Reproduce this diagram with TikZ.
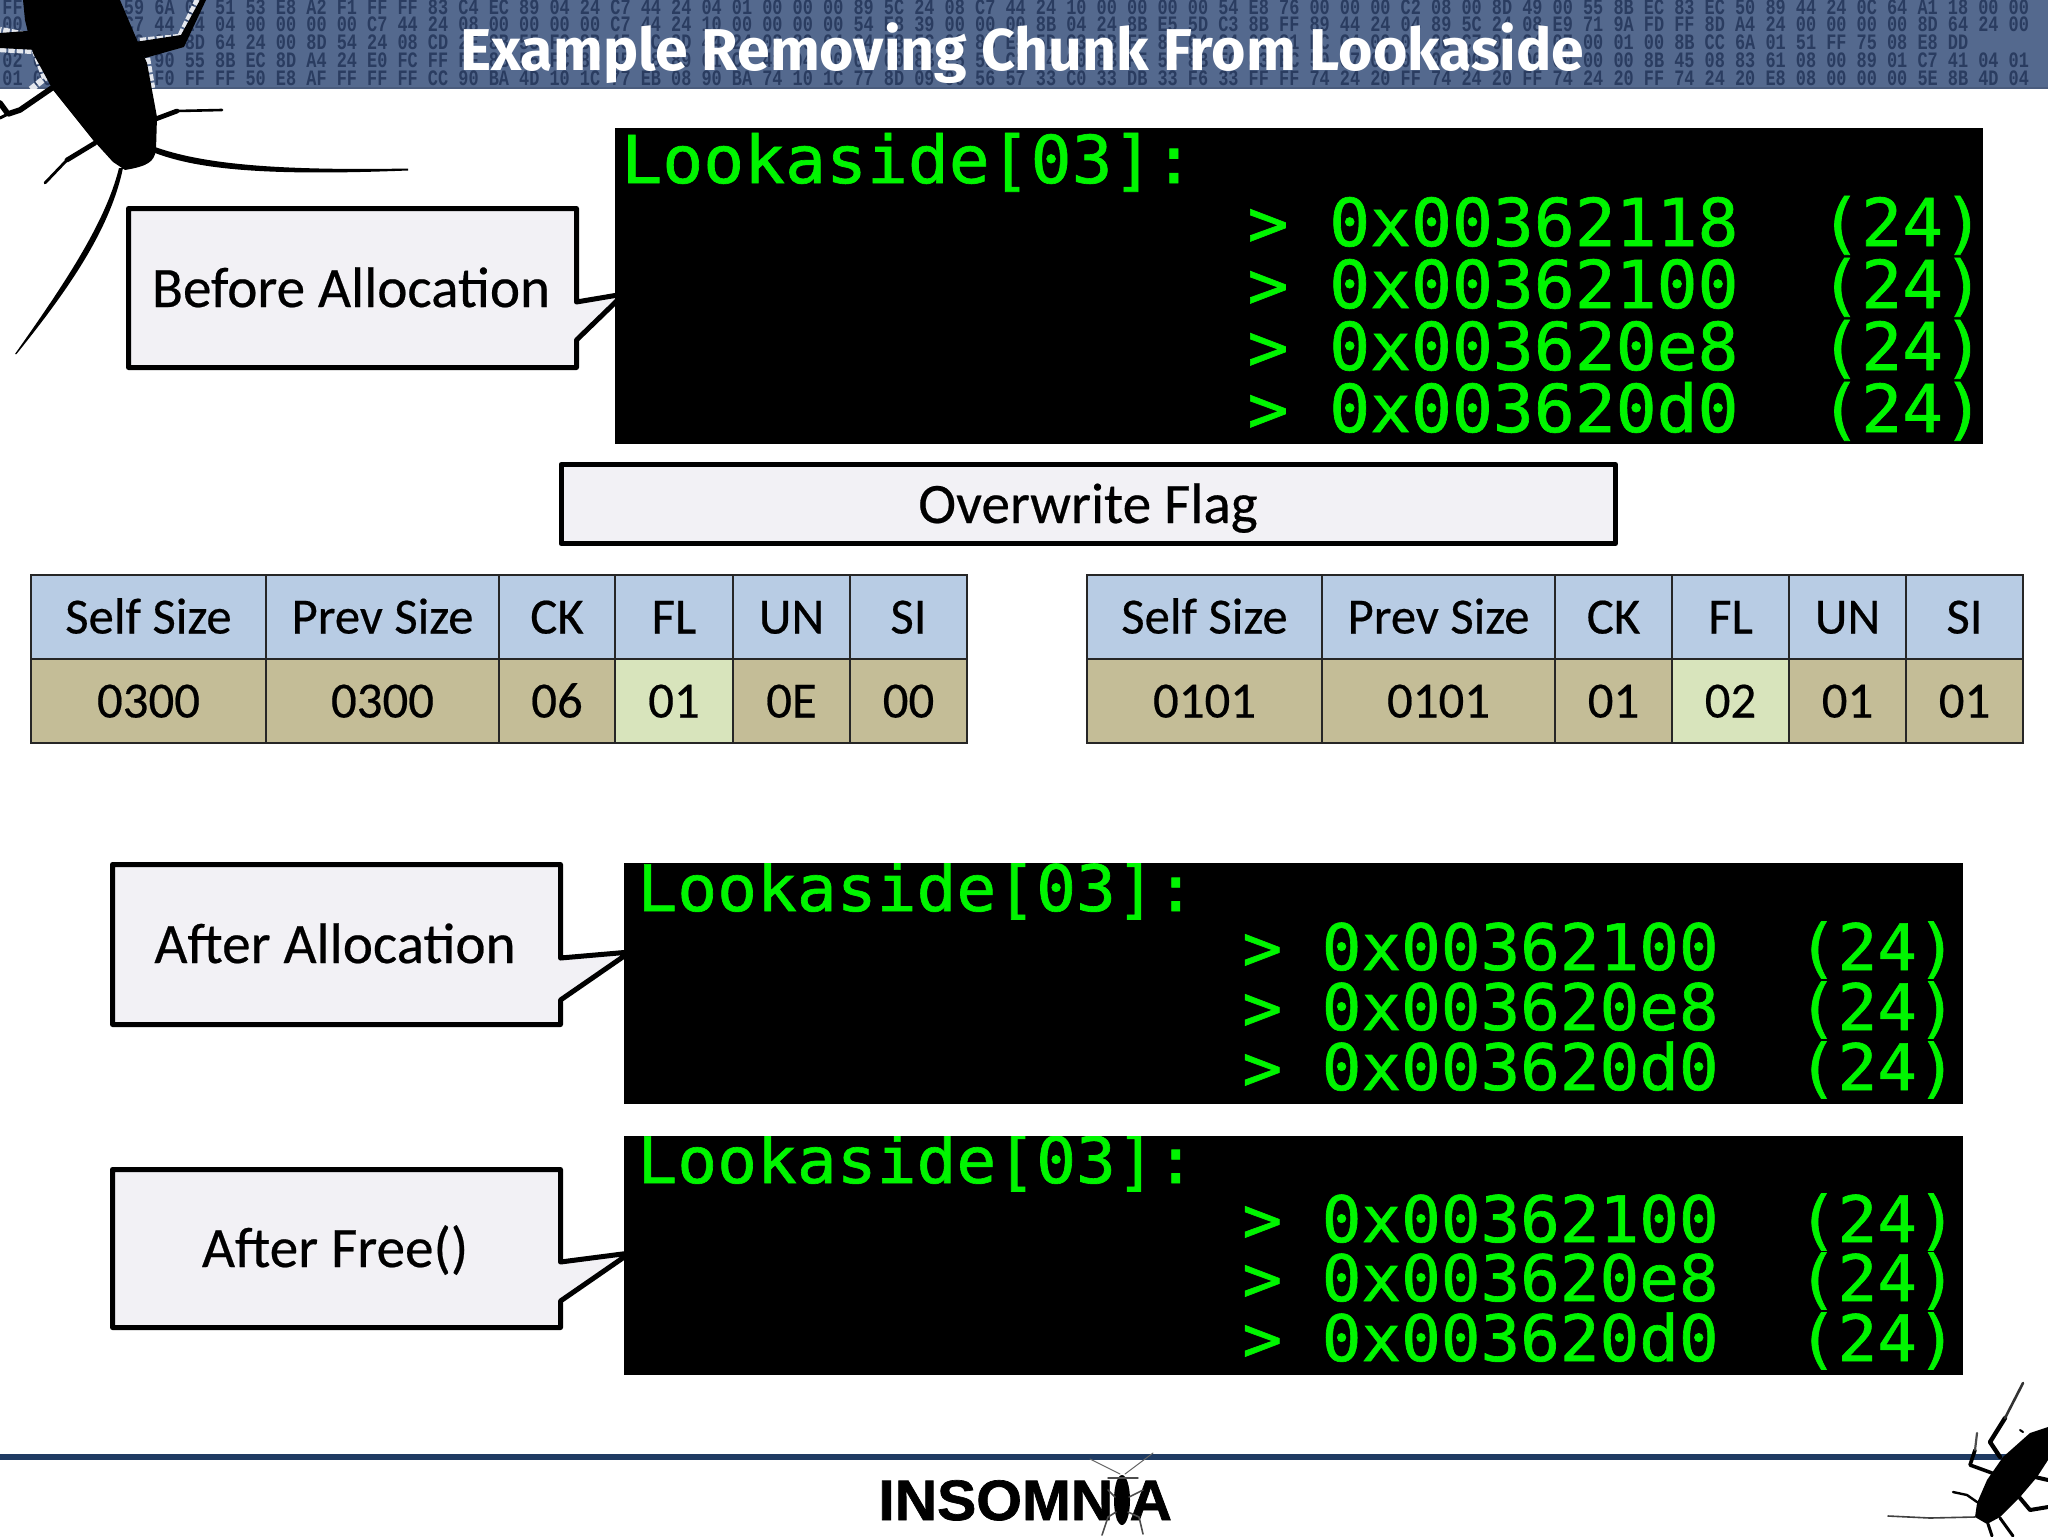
\documentclass[tikz,border=0pt]{standalone}
\usepackage{fontspec}
\setmainfont[FakeBold=0.4]{Carlito}
\newfontfamily\termf[FakeStretch=1.03,FakeBold=1.0]{DejaVu Sans Mono}
\newfontfamily\termg[FakeStretch=1.035,FakeBold=1.0]{DejaVu Sans Mono}
\newfontfamily\hexf[FakeStretch=0.7676]{Liberation Mono}
\newfontfamily\titlef[FakeStretch=1.0]{Fira Sans}
\newfontfamily\logof[FakeBold=1.2,FakeStretch=1.03]{Liberation Sans Bold}
\definecolor{banner}{HTML}{54698E}
\definecolor{hexink}{HTML}{2A3C60}
\definecolor{boxfill}{HTML}{F2F1F5}
\definecolor{headfill}{HTML}{B8CCE4}
\definecolor{bodyfill}{HTML}{C4BD97}
\definecolor{hifill}{HTML}{D8E4BC}
\definecolor{termgreen}{HTML}{00F500}
\definecolor{rulecol}{HTML}{1F3B63}
\tikzset{
  x=0.5pt,y=-0.5pt,
  hexrow/.style={anchor=base west,inner sep=0pt,text=hexink,font=\hexf\bfseries\fontsize{11}{11}\selectfont},
  callout/.style={draw=black,fill=boxfill,line width=2.5pt,line join=round},
  labeltxt/.style={anchor=base,inner sep=0pt,font=\fontsize{28.6}{28.6}\selectfont},
  celltxt/.style={anchor=base,inner sep=0pt,font=\fontsize{25.4}{25.4}\selectfont},
  cellbox/.style={draw=black!85,line width=1.2pt},
  termbig/.style={anchor=base west,inner sep=0pt,text=termgreen,font=\termf\fontsize{33}{33}\selectfont},
  termsmall/.style={anchor=base west,inner sep=0pt,text=termgreen,font=\termf\fontsize{32}{32}\selectfont},
  termhead/.style={anchor=base west,inner sep=0pt,text=termgreen,font=\termg\fontsize{32}{32}\selectfont},
  leg/.style={draw=black,line cap=round,line join=round},
  halo/.style={draw=white!85!banner,line width=3.2pt,densely dotted},
}
\newcommand\tcell[7]{% name x1 y1 x2 y2 fill text
  \path[cellbox,fill=#6] (#2,#3) rectangle (#4,#5);
  \node[celltxt] (#1) at ({(#2+#4)/2},{#5-25.5}) {#7};}
\begin{document}
\begin{tikzpicture}
\useasboundingbox (0,0) rectangle (2048,1536);
\fill[white] (0,0) rectangle (2048,1536);
% banner
\fill[banner] (0,0) rectangle (2048,89);
\fill[banner!88!black] (0,87) rectangle (2048,89);
\node[hexrow] (hexa) at (2,15) {FF 8B 45 08 59 6A 02 51 53 E8 A2 F1 FF FF 83 C4 EC 89 04 24 C7 44 24 04 01 00 00 00 89 5C 24 08 C7 44 24 10 00 00 00 00 54 E8 76 00 00 00 C2 08 00 8D 49 00 55 8B EC 83 EC 50 89 44 24 0C 64 A1 18 00 00};
\node[hexrow] (hexb) at (2,32) {00 24 08 6A C7 44 24 04 00 00 00 00 C7 44 24 08 00 00 00 00 C7 44 24 10 00 00 00 00 54 E8 39 00 00 00 8B 04 24 8B E5 5D C3 8B FF 89 44 24 04 89 5C 24 08 E9 71 9A FD FF 8D A4 24 00 00 00 00 8D 64 24 00};
\node[hexrow] (hexc) at (2,50) {00 00 8B 04 00 00 8D 64 24 00 8D 54 24 08 CD 2E 8B 55 FC 8B 45 FC 8D 44 24 08 89 04 24 E8 5C 00 8B E5 5D C3 8B FF 8D 64 24 00 81 EC C4 00 00 00 C7 04 24 07 00 01 00 8B CC 6A 01 51 FF 75 08 E8 DD};
\node[hexrow] (hexd) at (2,68) {02 00 55 8B 04 90 55 8B EC 8D A4 24 E0 FC FF FF 8B 55 FC 8B 45 08 89 01 C7 41 04 00 00 00 8B E5 5D C2 04 00 8B FF 55 8B EC 83 EC 50 C7 04 00 00 00 00 00 00 00 00 8B 45 08 83 61 08 00 89 01 C7 41 04 01};
\node[hexrow] (hexe) at (2,86) {01 00 55 8B EC F0 FF FF 50 E8 AF FF FF FF CC 90 BA 4D 10 1C 77 EB 08 90 BA 74 10 1C 77 8D 09 00 56 57 33 C0 33 DB 33 F6 33 FF FF 74 24 20 FF 74 24 20 FF 74 24 20 FF 74 24 20 E8 08 00 00 00 5E 8B 4D 04};
\node[anchor=base west,inner sep=0pt,text=white,font=\titlef\bfseries\fontsize{29.5}{29.5}\selectfont] (title) at (460,71) {Example Removing Chunk From Lookaside};
% top-left roach
\begin{scope}
\clip (0,0) rectangle (2048,89);
\draw[halo] (140,41) -- (180,37) -- (198,0);
\draw[halo] (26,35) -- (0,30);
\draw[halo] (0,49) -- (35,51) -- (45,78) -- (30,90);
\draw[halo] (147,58) -- (152,88);
\end{scope}
\fill[black] (23,0) -- (120,0) -- (137,40) -- (147,63) -- (157,117) -- (156,150) .. controls (154,162) and (148,166) .. (125,170) -- (113,162) -- (93,140) -- (53,90) -- (33,53) -- (25,20) -- cycle;
\fill[black] (0,33) -- (40,30) -- (50,60) -- (36,50) -- (0,48) -- cycle;
\fill[black] (135,42) -- (181,35) -- (200,0) -- (206,0) -- (184,47) -- (145,58) -- cycle;
\draw[leg,line width=2.8pt] (52,88) -- (20,110) -- (8,114) -- (0,103);
\draw[leg,line width=1.5pt] (8,114) -- (0,118);
\draw[leg,line width=2.4pt] (153,120) -- (177,111);
\draw[leg,line width=1.3pt] (177,111) -- (222,110);
\draw[leg,line width=2.4pt] (95,143) -- (67,160);
\draw[leg,line width=1.4pt] (67,160) -- (45,183);
\fill[black] (155,147) .. controls (200,163) and (270,171) .. (408,168.5) -- (408,170.5) .. controls (270,176) and (200,170) .. (155,153) -- cycle;
\fill[black] (119,168) .. controls (105,225) and (60,290) .. (15,354) -- (16.5,354) .. controls (68,290) and (110,230) .. (123,168) -- cycle;
% callouts
\draw[callout] (128.5,208.5) -- (576.5,208.5) -- (576.5,302) -- (624,294) -- (576.5,340) -- (576.5,367.5) -- (128.5,367.5) -- cycle;
\node[labeltxt] (beforelbl) at (351,307) {Before Allocation};
\draw[callout] (112.5,864.5) -- (560.5,864.5) -- (560.5,958) -- (630,952) -- (560.5,1000) -- (560.5,1024.5) -- (112.5,1024.5) -- cycle;
\node[labeltxt] (afteralloc) at (335,963) {After Allocation};
\draw[callout] (112.5,1169.5) -- (560.5,1169.5) -- (560.5,1262) -- (630,1253) -- (560.5,1301) -- (560.5,1327.5) -- (112.5,1327.5) -- cycle;
\node[labeltxt] (afterfree) at (335,1267) {After Free()};
% terminals
\fill[black] (615,128) rectangle (1983,444);
\node[termbig] (la) at (621,183) {Lookaside[03]:};
\node[termbig] (la1) at (1247,246) {> 0x00362118~~(24)};
\node[termbig] (la2) at (1247,308) {> 0x00362100~~(24)};
\node[termbig] (la3) at (1247,370) {> 0x003620e8~~(24)};
\node[termbig] (la4) at (1247,432) {> 0x003620d0~~(24)};
\fill[black] (624,863) rectangle (1963,1104);
\begin{scope}
\clip (624,863) rectangle (1963,1104);
\node[termhead] (lb) at (637,911) {Lookaside[03]:};
\end{scope}
\node[termsmall] (lb1) at (1242,970) {> 0x00362100~~(24)};
\node[termsmall] (lb2) at (1242,1030) {> 0x003620e8~~(24)};
\node[termsmall] (lb3) at (1242,1090) {> 0x003620d0~~(24)};
\fill[black] (624,1136) rectangle (1963,1375);
\begin{scope}
\clip (624,1136) rectangle (1963,1375);
\node[termhead] (lc) at (637,1183) {Lookaside[03]:};
\end{scope}
\node[termsmall] (lc1) at (1242,1242) {> 0x00362100~~(24)};
\node[termsmall] (lc2) at (1242,1301) {> 0x003620e8~~(24)};
\node[termsmall] (lc3) at (1242,1361) {> 0x003620d0~~(24)};
% overwrite flag
\draw[callout] (561,464.5) rectangle (1615.5,543.5);
\node[labeltxt] (flaglbl) at (1088,523) {Overwrite Flag};
% left table
\tcell{a1}{31}{575}{266}{659}{headfill}{Self Size}
\tcell{a2}{266}{575}{499}{659}{headfill}{Prev Size}
\tcell{a3}{499}{575}{615}{659}{headfill}{CK}
\tcell{a4}{615}{575}{733}{659}{headfill}{FL}
\tcell{a5}{733}{575}{850}{659}{headfill}{UN}
\tcell{a6}{850}{575}{967}{659}{headfill}{SI}
\tcell{b1}{31}{659}{266}{743}{bodyfill}{0300}
\tcell{b2}{266}{659}{499}{743}{bodyfill}{0300}
\tcell{b3}{499}{659}{615}{743}{bodyfill}{06}
\tcell{b4}{615}{659}{733}{743}{hifill}{01}
\tcell{b5}{733}{659}{850}{743}{bodyfill}{0E}
\tcell{b6}{850}{659}{967}{743}{bodyfill}{00}
% right table
\tcell{c1}{1087}{575}{1322}{659}{headfill}{Self Size}
\tcell{c2}{1322}{575}{1555}{659}{headfill}{Prev Size}
\tcell{c3}{1555}{575}{1672}{659}{headfill}{CK}
\tcell{c4}{1672}{575}{1789}{659}{headfill}{FL}
\tcell{c5}{1789}{575}{1906}{659}{headfill}{UN}
\tcell{c6}{1906}{575}{2023}{659}{headfill}{SI}
\tcell{d1}{1087}{659}{1322}{743}{bodyfill}{0101}
\tcell{d2}{1322}{659}{1555}{743}{bodyfill}{0101}
\tcell{d3}{1555}{659}{1672}{743}{bodyfill}{01}
\tcell{d4}{1672}{659}{1789}{743}{hifill}{02}
\tcell{d5}{1789}{659}{1906}{743}{bodyfill}{01}
\tcell{d6}{1906}{659}{2023}{743}{bodyfill}{01}
% footer rule
\fill[rulecol] (0,1454) rectangle (2048,1460);
% logo
\node[anchor=base west,inner sep=0pt,font=\logof\fontsize{28.5}{28.5}\selectfont] (logo) at (878,1520) {INSOMNIA};
\fill[black] (1122,1500) ellipse [x radius=8,y radius=25];
\draw[leg,black!60,line width=.5pt] (1120,1474) -- (1090,1459);
\draw[leg,black!60,line width=.5pt] (1125,1474) -- (1153,1453);
\draw[leg,black!70,line width=.7pt] (1108,1478) -- (1138,1478);
\draw[leg,black!70,line width=.8pt] (1115,1497) -- (1108,1490);
\draw[leg,black!70,line width=.8pt] (1129,1497) -- (1143,1490);
\draw[leg,black!70,line width=.8pt] (1116,1512) -- (1108,1517) -- (1102,1535);
\draw[leg,black!70,line width=.8pt] (1128,1512) -- (1139,1517) -- (1143,1534);
% bottom-right roach
\fill[black] (2048,1427) -- (2030,1433) -- (2003,1457) -- (1987,1480) -- (1977,1503) -- (1975,1517) -- (1987,1524) -- (2000,1517) -- (2020,1497) -- (2037,1477) -- (2048,1460) -- cycle;
\draw[leg,line width=2.2pt] (2000,1457) -- (1990,1442) -- (2005,1418);
\draw[leg,black!80,line width=1.3pt] (2005,1418) -- (2023,1383);
\draw[leg,line width=1.8pt] (1992,1473) -- (1970,1465) -- (1975,1450);
\draw[leg,black!70,line width=1.1pt] (1975,1450) -- (1977,1433);
\draw[leg,line width=1.2pt] (1977,1502) -- (1967,1495) -- (1953,1492);
\draw[leg,black!75,line width=.8pt] (1975,1517) -- (1930,1518) -- (1888,1516);
\draw[leg,line width=2pt] (2020,1498) -- (2030,1510) -- (2048,1507);
\draw[leg,line width=2pt] (2035,1477) -- (2048,1480);
\draw[leg,line width=1.5pt] (2000,1518) -- (2013,1536);
\draw[leg,line width=1.5pt] (1988,1524) -- (1992,1536);
\draw[leg,line width=1pt] (2023,1432) -- (2020,1430);
\end{tikzpicture}
\end{document}
